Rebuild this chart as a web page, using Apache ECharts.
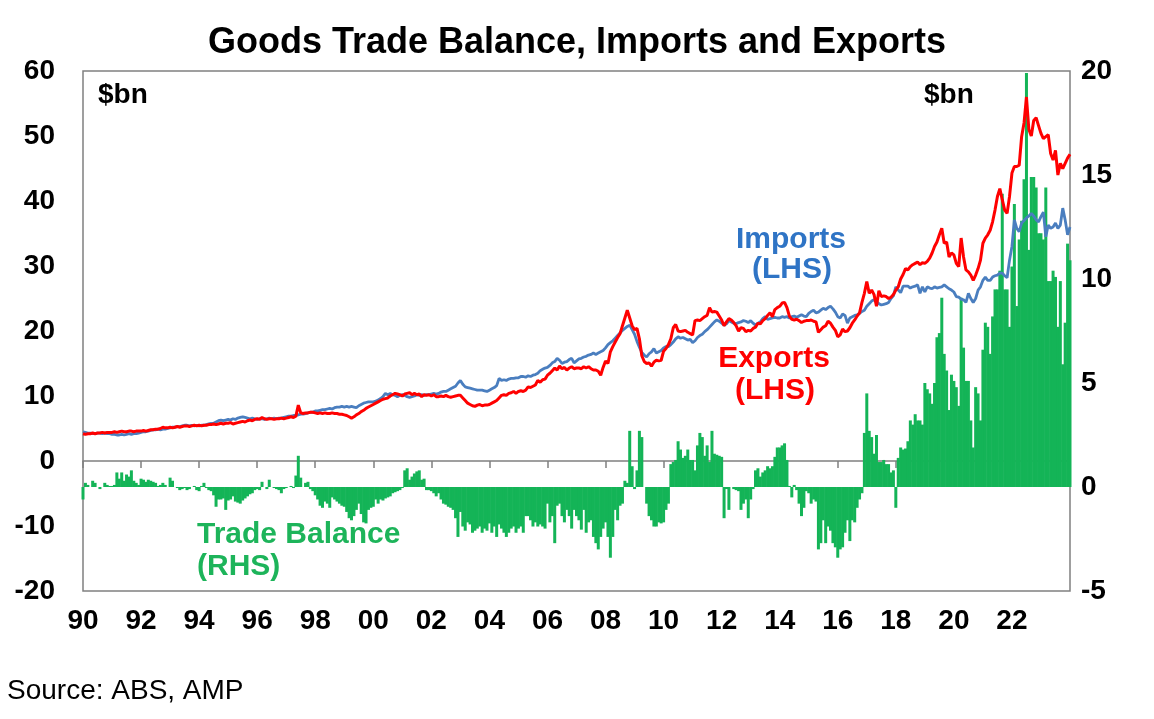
<!DOCTYPE html>
<html>
<head>
<meta charset="utf-8">
<script src="https://cdn.jsdelivr.net/npm/echarts/dist/echarts.min.js"></script>
<style>
    html, body { margin: 0; padding: 0; background: #fff; }
    #chart { width: 1154px; height: 719px; }
</style>
</head>
<body>
<div id="chart"></div>
<script>
// monthly values, Jan 1990 .. Jan 2024, $bn (one row per year)
var startYear = 1990;

var exportsBn = [
    4.2, 4.1, 4.2, 4.2, 4.3, 4.2, 4.3, 4.3, 4.4, 4.3, 4.4, 4.4,
    4.4, 4.5, 4.4, 4.5, 4.6, 4.5, 4.5, 4.6, 4.6, 4.5, 4.6, 4.6,
    4.6, 4.7, 4.6, 4.7, 4.8, 4.8, 4.9, 4.9, 5.0, 5.2, 5.1, 5.1,
    5.2, 5.1, 5.2, 5.3, 5.2, 5.3, 5.4, 5.4, 5.3, 5.4, 5.5, 5.4,
    5.5, 5.4, 5.5, 5.5, 5.6, 5.6, 5.7, 5.6, 5.7, 5.8, 5.7, 5.8,
    5.8, 5.9, 5.7, 5.8, 5.9, 6.0, 6.1, 6.0, 6.2, 6.3, 6.2, 6.4,
    6.5, 6.4, 6.7, 6.5, 6.4, 6.5, 6.5, 6.4, 6.5, 6.5, 6.6, 6.5,
    6.6, 6.7, 6.8, 6.7, 6.9, 8.6, 7.4, 7.3, 7.4, 7.4, 7.5, 7.5,
    7.4, 7.3, 7.4, 7.3, 7.4, 7.3, 7.3, 7.4, 7.3, 7.3, 7.2, 7.2,
    7.1, 7.0, 6.8, 6.6, 6.8, 7.1, 7.3, 7.6, 7.8, 8.1, 8.3, 8.5,
    8.7, 8.9, 9.1, 9.3, 9.5, 9.6, 9.7, 10.0, 10.2, 10.4, 10.3, 10.2,
    10.0, 10.3, 10.4, 10.5, 10.2, 10.4, 10.2, 10.3, 9.9, 10.2, 10.1, 10.2,
    10.0, 10.2, 9.9, 9.9, 10.0, 9.9, 10.1, 9.9, 9.8, 9.9, 10.0, 10.1,
    10.1, 9.7, 9.3, 8.9, 8.7, 8.5, 8.4, 8.6, 8.7, 8.5, 8.6, 8.6,
    8.7, 8.9, 9.1, 9.3, 9.7, 10.1, 10.2, 10.1, 10.4, 10.5, 10.7, 10.4,
    10.7, 10.8, 10.7, 10.9, 11.4, 11.3, 11.5, 11.7, 12.4, 12.1, 12.5, 12.6,
    13.2, 13.5, 13.9, 14.3, 14.0, 14.6, 14.2, 14.4, 14.0, 14.3, 14.5, 14.2,
    14.3, 14.3, 14.2, 14.5, 14.3, 14.5, 14.2, 14.0, 14.0, 13.8, 13.2, 14.4,
    15.4, 15.0, 16.8, 17.6, 18.3, 19.0, 19.6, 20.8, 22.0, 23.2, 22.0, 20.8,
    20.2, 20.4, 18.8, 16.2, 15.3, 15.0, 15.1, 14.6, 15.2, 15.5, 15.4, 15.5,
    16.9, 17.3, 17.9, 18.8, 20.5, 21.0, 20.0, 19.9, 20.0, 20.1, 19.8, 19.6,
    19.4, 21.6, 21.7, 21.6, 21.9, 22.2, 22.4, 23.6, 22.9, 23.0, 22.9, 22.3,
    21.7, 20.8, 21.4, 21.9, 21.7, 21.3, 20.8, 20.0, 20.5, 20.4, 19.9, 20.1,
    20.0, 20.4, 20.6, 21.2, 21.1, 21.6, 21.9, 22.4, 22.8, 22.2, 23.3, 23.6,
    23.8, 24.3, 24.4, 23.6, 22.3, 21.8, 21.7, 21.8, 21.6, 21.3, 21.5, 21.6,
    21.6, 21.7, 21.5, 21.4, 19.8, 20.2, 20.6, 20.8, 21.5, 21.2, 20.6, 20.1,
    19.1, 19.4, 20.3, 19.9, 20.0, 20.5, 21.2, 21.7, 22.3, 22.8, 24.4, 25.8,
    27.6, 25.8, 26.3, 25.6, 23.8, 26.2, 25.3, 25.4, 25.3, 25.0, 25.2, 25.6,
    26.3, 26.8, 28.0, 28.7, 29.6, 29.4, 29.9, 30.2, 30.4, 30.6, 30.2, 30.5,
    30.4, 30.7, 31.2, 32.0, 33.0, 33.7, 34.8, 35.8, 33.5, 33.7, 31.4, 32.0,
    31.7, 30.4, 29.9, 34.3, 31.4, 29.4, 29.1, 28.6, 27.8, 28.6, 29.6, 30.9,
    33.5, 34.3, 34.8, 35.5, 36.8, 38.6, 40.7, 41.9, 40.2, 38.6, 38.1, 40.7,
    44.3, 45.3, 45.3, 45.5, 49.9, 52.0, 56.0, 51.0, 50.0, 52.4, 52.8, 51.6,
    50.4, 49.6, 49.9, 50.2, 47.3, 46.3, 47.8, 44.0, 45.8, 45.0, 45.8, 46.6,
    47.2
];

var importsBn = [
    4.5, 4.4, 4.3, 4.3, 4.2, 4.2, 4.3, 4.3, 4.2, 4.3, 4.2, 4.2,
    4.1, 4.1, 4.0, 4.0, 4.1, 4.0, 4.1, 4.2, 4.1, 4.2, 4.2, 4.3,
    4.4, 4.5, 4.5, 4.6, 4.7, 4.8, 4.8, 4.9, 4.8, 4.9, 4.9, 5.0,
    5.1, 5.2, 5.2, 5.3, 5.3, 5.4, 5.5, 5.5, 5.4, 5.5, 5.4, 5.5,
    5.4, 5.5, 5.5, 5.6, 5.7, 5.8, 5.8, 6.0, 6.2, 6.3, 6.2, 6.3,
    6.4, 6.3, 6.5, 6.4, 6.6, 6.7, 6.8, 6.7, 6.6, 6.5, 6.6, 6.5,
    6.4, 6.5, 6.5, 6.4, 6.5, 6.6, 6.5, 6.6, 6.5, 6.6, 6.6, 6.7,
    6.8, 6.9, 6.9, 7.0, 7.0, 7.1, 7.2, 7.2, 7.3, 7.4, 7.5, 7.5,
    7.7, 7.7, 7.8, 7.9, 7.9, 8.0, 8.1, 8.0, 8.2, 8.3, 8.3, 8.4,
    8.3, 8.4, 8.3, 8.4, 8.3, 8.2, 8.5, 8.7, 8.9, 9.0, 9.1, 9.1,
    9.1, 9.2, 9.4, 9.6, 9.9, 10.4, 10.2, 10.4, 10.2, 10.1, 9.9, 10.1,
    10.2, 10.1, 9.9, 9.8, 9.9, 10.0, 10.2, 10.1, 10.2, 10.1, 10.2, 10.2,
    10.3, 10.4, 10.3, 10.4, 10.6, 10.7, 10.7, 10.9, 11.1, 11.3, 11.5, 12.0,
    12.4, 11.8, 11.4, 11.3, 11.2, 11.1, 11.0, 10.9, 10.9, 10.9, 10.8, 10.7,
    10.9, 11.1, 11.3, 11.6, 12.7, 12.4, 12.5, 12.4, 12.6, 12.7, 12.7, 12.8,
    12.8, 13.0, 13.0, 12.9, 13.1, 13.0, 13.2, 13.3, 13.5, 13.9, 14.1, 14.3,
    14.4, 14.7, 15.1, 15.3, 15.8, 15.5, 15.0, 15.2, 15.3, 15.6, 15.8, 15.1,
    15.4, 15.7, 15.8, 16.0, 16.1, 16.3, 16.4, 16.6, 16.4, 16.6, 16.8, 17.0,
    17.4, 17.9, 18.2, 18.5, 18.9, 19.3, 19.7, 20.1, 20.4, 20.7, 20.9, 20.2,
    19.5, 18.4, 17.5, 16.7, 16.3, 16.0, 16.5, 16.8, 17.3, 16.6, 16.8, 17.0,
    17.4, 17.6, 17.6, 17.9, 18.3, 18.8, 19.1, 18.9, 19.0, 18.8, 18.6, 18.7,
    18.2, 18.5, 19.0, 19.3, 19.5, 19.9, 20.2, 20.6, 21.0, 21.4, 21.7, 21.5,
    21.2, 20.9, 21.1, 21.6, 21.4, 21.2, 21.1, 21.3, 21.4, 21.6, 21.5, 21.3,
    21.6, 21.2, 20.9, 21.2, 21.4, 21.9, 22.2, 21.8, 21.9, 22.0, 22.1, 22.0,
    22.0, 22.2, 22.1, 22.2, 22.0, 22.2, 22.3, 22.1, 22.3, 22.5, 22.3, 22.2,
    22.7, 23.0, 23.2, 22.8, 22.9, 23.2, 23.5, 23.3, 23.6, 23.8, 23.4, 22.9,
    22.2, 22.0, 22.6, 22.4, 21.2, 22.0, 22.2, 22.4, 22.5, 22.7, 23.0, 23.2,
    23.8, 24.2, 24.6, 24.8, 24.6, 24.2, 24.0, 24.1, 24.2, 24.4, 25.0, 25.4,
    26.8, 26.3, 25.9, 26.9, 26.9, 26.9, 26.6, 26.8, 26.9, 27.1, 25.8, 26.8,
    26.0, 26.8, 26.6, 26.5, 26.8, 26.6, 26.7, 26.8, 27.1, 26.8, 26.5, 26.3,
    26.0, 25.3, 25.2, 24.9, 24.8, 24.4, 25.8, 25.0, 24.4, 25.0, 26.3, 26.8,
    27.8, 28.3, 27.8, 27.8, 28.3, 28.5, 28.6, 28.9, 28.9, 28.5, 28.2, 30.9,
    33.0, 37.1, 35.8, 35.3, 36.6, 37.0, 37.4, 37.7, 38.1, 37.7, 37.1, 36.8,
    37.6, 38.3, 34.5, 36.3, 35.8, 36.0, 36.6, 35.8, 36.3, 38.9, 37.1, 34.8,
    36.0
];

var balanceBn = [
    -0.6, 0.2, 0.1, 0.0, 0.3, 0.2, 0.0, -0.1, 0.0, 0.2, 0.1, 0.05,
    0.05, 0.1, 0.7, 0.4, 0.7, 0.3, 0.6, 0.5, 0.8, 0.3, 0.2, 0.1,
    0.4, 0.35, 0.25, 0.35, 0.3, 0.25, 0.2, 0.05, 0.1, 0.2, 0.1, 0.0,
    0.45, 0.3, 0.0, -0.05, -0.15, -0.1, -0.05, -0.15, -0.1, 0.0, 0.05, -0.15,
    -0.2, 0.05, 0.2, -0.05, -0.15, -0.2, -0.4, -0.95, -0.6, -0.6, -0.55, -1.1,
    -0.65, -0.6, -0.45, -0.7, -0.75, -0.8, -0.65, -0.55, -0.45, -0.35, -0.3, -0.15,
    -0.1, -0.15, 0.25, 0.0, -0.1, 0.35, 0.0, -0.05, -0.1, -0.15, -0.3, -0.1,
    -0.05, 0.0, 0.05, -0.05, 0.55, 1.5, 0.45, 0.0, 0.2, 0.25, -0.1, -0.2,
    -0.4, -0.6, -0.9, -1.0, -0.7, -0.8, -1.0, -0.5, -0.6, -0.7, -0.8, -0.9,
    -0.95, -1.2, -1.5, -1.6, -1.4, -1.1, -0.8, -1.3, -1.7, -1.75, -1.1, -1.0,
    -0.95, -0.6, -0.8, -0.6, -0.65, -0.55, -0.5, -0.45, -0.3, -0.25, -0.2, -0.15,
    -0.05, 0.8, 0.9, 0.35, 0.5, 0.65, 0.75, 0.8, 0.35, 0.4, -0.15, -0.15,
    -0.2, -0.3, -0.45, -0.3, -0.6, -0.8, -0.85, -0.95, -1.0, -1.1, -1.5, -2.4,
    -1.2, -1.9, -2.1, -1.7, -1.8, -2.2, -2.1, -2.0, -1.9, -2.2, -2.0, -2.1,
    -1.75, -2.2, -1.9, -2.4, -1.8, -2.0, -2.2, -2.4, -2.2, -2.0, -1.9, -2.2,
    -2.0, -1.9, -2.2, -1.4, -1.4, -1.6, -1.9, -1.7, -1.9, -1.8, -1.9, -2.0,
    -0.8, -1.7, -1.4, -2.7, -0.9, -0.8, -1.4, -1.7, -1.1, -1.4, -2.0, -1.1,
    -1.4, -1.6, -2.05, -1.1, -2.2, -1.7, -1.6, -2.4, -2.7, -3.0, -2.4, -2.0,
    -1.7, -2.4, -3.4, -2.4, -1.1, -1.6, -0.9, -0.8, 0.3, 0.2, 2.7, 1.0,
    -0.1, 0.8, 2.7, 2.4, 0.0, -0.8, -1.4, -1.6, -1.9, -1.9, -1.7, -1.75,
    -1.7, -1.1, -0.8, 1.1, 1.2, 1.3, 2.2, 1.8, 1.4, 1.5, 1.8, 1.3,
    1.3, 0.8, 2.0, 2.6, 2.4, 1.5, 2.0, 1.2, 2.7, 1.6, 1.55, 1.5,
    1.45, -1.5, -0.1, -1.1, 0.0, -0.1, -0.15, -0.2, -1.1, -0.8, -0.6, -1.5,
    -0.6, -0.1, 0.8, 0.9, 0.5, 0.7, 0.8, 1.0, 0.9, 1.0, 1.45, 1.9,
    1.9, 2.0, 2.1, 1.3, 0.05, -0.5, 0.1, -0.15, -0.8, -1.4, -1.0, -0.2,
    -0.3, -0.8, -0.6, -0.7, -3.0, -2.7, -1.6, -2.7, -1.9, -2.1, -2.7, -2.9,
    -3.4, -3.0, -2.9, -2.2, -1.6, -2.6, -1.6, -1.7, -1.0, -0.6, -0.3, 2.6,
    4.5, 2.7, 2.4, 1.6, 2.5, 1.2, 1.2, 1.3, 1.1, 1.1, 0.7, 0.8,
    -1.0, 1.4, 1.9, 1.8, 1.85, 2.2, 3.2, 3.0, 3.5, 3.2, 3.2, 3.0,
    5.0, 4.7, 4.5, 4.0, 5.0, 7.2, 7.4, 9.1, 6.4, 5.6, 3.7, 5.4,
    5.1, 4.8, 3.9, 9.1, 6.7, 5.1, 5.1, 3.2, 1.9, 4.8, 4.5, 3.2,
    6.6, 7.9, 7.7, 6.4, 8.2, 9.5, 9.5, 10.4, 14.1, 9.5, 9.5, 7.7,
    10.6, 13.6, 8.7, 11.9, 12.8, 14.8, 19.9, 11.4, 14.9, 14.9, 14.4, 12.2,
    12.2, 11.9, 14.4, 9.9, 9.9, 10.4, 10.1, 7.7, 9.9, 5.9, 7.9, 11.7,
    10.9
];

var xTickLabels = ['90', '92', '94', '96', '98', '00', '02', '04', '06',
    '08', '10', '12', '14', '16', '18', '20', '22'];

var FONT = '"Liberation Sans", Arial, sans-serif';
var GREEN = '#14b457',
    RED = '#ff0000',
    BLUE = '#4a7ebf',
    GREY = '#808080';

function toPoints(arr) {
    var pts = [];
    for (var i = 0; i < arr.length; i++)
        pts.push([startYear + i / 12, arr[i]]);
    return pts;
}

function label(text, x, y, color, size, align, weight) {
    return {
        type: 'text',
        x: x,
        y: y,
        z: 100,
        style: {
            text: text,
            fill: color,
            font: (weight || 'bold') + ' ' + size + 'px ' + FONT,
            textAlign: align || 'left',
            textVerticalAlign: 'middle',
            align: align || 'left',
            verticalAlign: 'middle'
        }
    };
}

var chart = echarts.init(document.getElementById('chart'));

chart.setOption({
    animation: false,
    textStyle: { fontFamily: FONT },
    title: {
        text: 'Goods Trade Balance, Imports and Exports',
        left: 'center',
        top: 20,
        textStyle: { fontSize: 36, fontWeight: 'bold', color: '#000', fontFamily: FONT }
    },
    grid: {
        left: 83,
        right: 84,
        top: 71,
        bottom: 128,
        show: true,
        borderColor: GREY,
        borderWidth: 1.5,
        backgroundColor: 'transparent'
    },
    xAxis: {
        type: 'value',
        min: 1990,
        max: 2024,
        interval: 2,
        axisLine: { show: true, lineStyle: { color: GREY, width: 1.5 } },
        axisTick: { show: true, length: 7, lineStyle: { color: GREY, width: 1.5 } },
        splitLine: { show: false },
        axisLabel: {
            margin: 16,
            fontSize: 28,
            fontWeight: 'bold',
            color: '#000',
            fontFamily: FONT,
            formatter: function(v) {
                var k = Math.round((v - startYear) / 2);
                return xTickLabels[k] || '';
            }
        }
    },
    yAxis: [{
        type: 'value',
        min: -20,
        max: 60,
        interval: 10,
        position: 'left',
        axisLine: { show: false },
        axisTick: { show: false },
        splitLine: { show: false },
        axisLabel: { margin: 28, fontSize: 28, fontWeight: 'bold', color: '#000', fontFamily: FONT }
    }, {
        type: 'value',
        min: -5,
        max: 20,
        interval: 5,
        position: 'right',
        axisLine: { show: false },
        axisTick: { show: false },
        splitLine: { show: false },
        axisLabel: { margin: 11, fontSize: 28, fontWeight: 'bold', color: '#000', fontFamily: FONT }
    }],
    series: [{
        name: 'Trade Balance',
        type: 'bar',
        yAxisIndex: 1,
        barWidth: 3,
        itemStyle: { color: GREEN },
        data: toPoints(balanceBn),
        z: 1
    }, {
        name: 'Imports',
        type: 'line',
        yAxisIndex: 0,
        showSymbol: false,
        lineStyle: { color: BLUE, width: 2.8 },
        itemStyle: { color: BLUE },
        data: toPoints(importsBn),
        z: 3
    }, {
        name: 'Exports',
        type: 'line',
        yAxisIndex: 0,
        showSymbol: false,
        lineStyle: { color: RED, width: 3 },
        itemStyle: { color: RED },
        data: toPoints(exportsBn),
        z: 4
    }],
    graphic: [
        label('$bn', 98, 95, '#000', 28),
        label('$bn', 924, 95, '#000', 28),
        label('Imports', 791, 240, '#2f74c5', 30, 'center'),
        label('(LHS)', 792, 270, '#2f74c5', 30, 'center'),
        label('Exports', 774, 359, RED, 30, 'center'),
        label('(LHS)', 775, 391, RED, 30, 'center'),
        label('Trade Balance', 197, 535, '#1db45a', 30),
        label('(RHS)', 197, 567, '#1db45a', 30),
        label('Source: ABS, AMP', 7, 691, '#000', 28, 'left', 'normal')
    ]
});
</script>
</body>
</html>
